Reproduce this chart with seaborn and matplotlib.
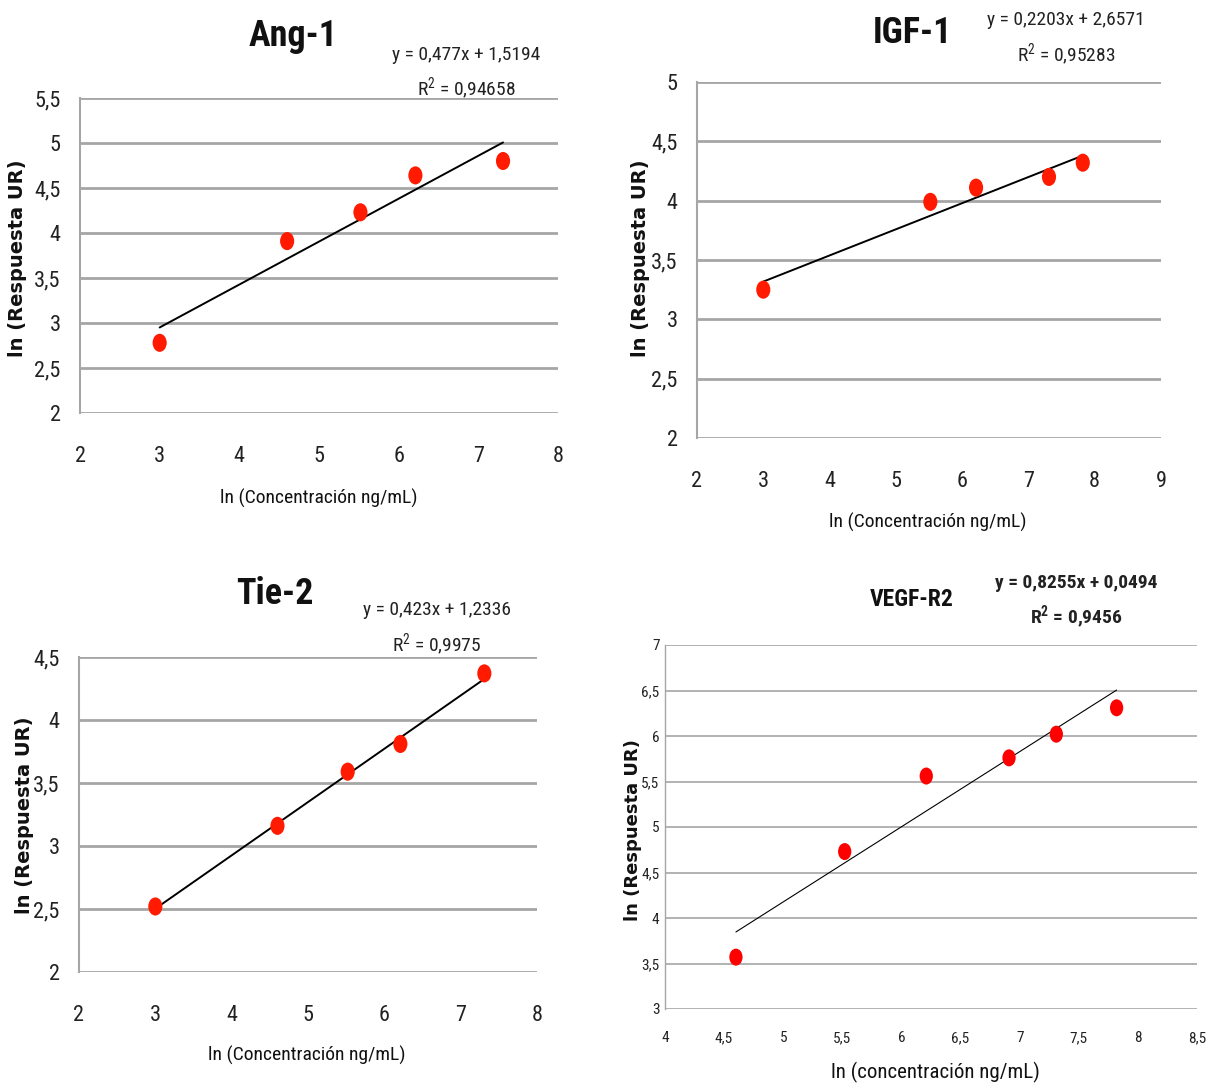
import matplotlib
matplotlib.use("Agg")
import matplotlib.pyplot as plt
from matplotlib.ticker import FuncFormatter, MultipleLocator
from matplotlib import font_manager
from matplotlib.path import Path
from matplotlib.transforms import Affine2D
import seaborn as sns
import numpy as np
import pandas as pd

# ---------------- data ----------------
titles = ["Ang-1", "IGF-1", "Tie-2", "VEGF-R2"]

ang_x = [3.0, 4.6, 5.52, 6.21, 7.31]
ang_y = [2.78, 3.91, 4.23, 4.64, 4.80]
ang_fit = (0.477, 1.5194)
ang_eq = ["y = 0,477x + 1,5194", "R$^2$ = 0,94658"]

igf_x = [3.0, 5.52, 6.21, 7.31, 7.82]
igf_y = [3.25, 3.99, 4.11, 4.20, 4.32]
igf_fit = (0.2203, 2.6571)
igf_eq = ["y = 0,2203x + 2,6571", "R$^2$ = 0,95283"]

tie_x = [3.0, 4.6, 5.52, 6.21, 7.31]
tie_y = [2.52, 3.16, 3.59, 3.81, 4.37]
tie_fit = (0.423, 1.2336)
tie_eq = ["y = 0,423x + 1,2336", "R$^2$ = 0,9975"]

vegf_x = [4.6, 5.52, 6.21, 6.91, 7.31, 7.82]
vegf_y = [3.57, 4.73, 5.56, 5.76, 6.02, 6.31]
vegf_fit = (0.8255, 0.0494)
vegf_eq = ["y = 0,8255x + 0,0494", "R$^2$ = 0,9456"]

xlabel_main = "ln (Concentración ng/mL)"
xlabel_vegf = "ln (concentración ng/mL)"
ylabel = "ln (Respuesta UR)"

# ---------------- style ----------------
sns.set_theme(style="white")
available = {f.name for f in font_manager.fontManager.ttflist}
cands = ["Roboto Condensed", "Liberation Sans Narrow", "Roboto", "DejaVu Sans"]
narrow = [c for c in cands if c in available] or ["DejaVu Sans"]
plt.rcParams["font.family"] = narrow
plt.rcParams["mathtext.fontset"] = "custom"
plt.rcParams["mathtext.rm"] = narrow[0]
plt.rcParams["mathtext.bf"] = narrow[0] + ":bold"

W, H = 1206, 1085
fig = plt.figure(figsize=(W / 100, H / 100), dpi=100)
fig.patch.set_facecolor("white")

# slightly tall elliptical dot, like the original
ellipse = Path.unit_circle().transformed(Affine2D().scale(0.78, 1.0))


def px(x, y):
    return x / W, 1 - y / H


def comma(v, pos):
    return ("%g" % v).replace(".", ",")


panels = [
    dict(x=ang_x, y=ang_y, fit=ang_fit, eq=ang_eq, title=titles[0],
         box=(80, 98, 558, 413), xlim=(2, 8), ylim=(2, 5.5), xstep=1, ystep=0.5,
         tfs=16, title_xy=(293, 36), title_fs=26, eq_xy=(466, 55), r2_xy=(466, 89), eq_fs=14,
         xl_xy=(319, 498), yl_xy=(18, 258), xl_fs=14, yl_fs=14, eq_bold=False, lw=1.4,
         color="#ff1a00", s=170, xpad=24, ypad=14),
    dict(x=igf_x, y=igf_y, fit=igf_fit, eq=igf_eq, title=titles[1],
         box=(697, 82, 1161, 438), xlim=(2, 9), ylim=(2, 5), xstep=1, ystep=0.5,
         tfs=16, title_xy=(912, 33), title_fs=26, eq_xy=(1066, 20), r2_xy=(1066, 55), eq_fs=14,
         xl_xy=(928, 522), yl_xy=(641, 258), xl_fs=14, yl_fs=14, eq_bold=False, lw=1.4,
         color="#ff1a00", s=170, xpad=24, ypad=14),
    dict(x=tie_x, y=tie_y, fit=tie_fit, eq=tie_eq, title=titles[2],
         box=(79, 657, 537, 972), xlim=(2, 8), ylim=(2, 4.5), xstep=1, ystep=0.5,
         tfs=16, title_xy=(275, 594), title_fs=26, eq_xy=(437, 610), r2_xy=(437, 645), eq_fs=14,
         xl_xy=(307, 1055), yl_xy=(25, 815), xl_fs=14, yl_fs=14, eq_bold=False, lw=1.4,
         color="#ff1a00", s=170, xpad=24, ypad=14),
    dict(x=vegf_x, y=vegf_y, fit=vegf_fit, eq=vegf_eq, title=titles[3],
         box=(665, 645, 1197, 1009), xlim=(4, 8.5), ylim=(3, 7), xstep=0.5, ystep=0.5,
         tfs=11, title_xy=(912, 600), title_fs=17, eq_xy=(1076, 583), r2_xy=(1076, 617), eq_fs=14,
         xl_xy=(935, 1072), yl_xy=(633, 830), xl_fs=15, yl_fs=13, eq_bold=True, lw=0.8,
         color="#ff0000", s=150, xpad=16, ypad=4),
]

for p in panels:
    x0, y0, x1, y1 = p["box"]
    left, top = px(x0, y0)
    right, bottom = px(x1, y1)
    ax = fig.add_axes([left, bottom, right - left, top - bottom])
    ax.set_facecolor("white")

    df = pd.DataFrame({"x": p["x"], "y": p["y"]})
    m, b = p["fit"]
    xs = np.array([min(p["x"]), max(p["x"])])
    fit_df = pd.DataFrame({"x": xs, "y": m * xs + b})

    sns.lineplot(data=fit_df, x="x", y="y", ax=ax, color="black", linewidth=p["lw"], zorder=3)
    sns.scatterplot(data=df, x="x", y="y", ax=ax, color=p["color"], s=p["s"],
                    marker=ellipse, edgecolor="none", zorder=4)

    ax.set_xlim(*p["xlim"])
    ax.set_ylim(*p["ylim"])
    ax.xaxis.set_major_locator(MultipleLocator(p["xstep"]))
    ax.yaxis.set_major_locator(MultipleLocator(p["ystep"]))
    ax.xaxis.set_major_formatter(FuncFormatter(comma))
    ax.yaxis.set_major_formatter(FuncFormatter(comma))
    big = p["tfs"] > 12
    ax.grid(axis="y", color="#a6a6a6", linewidth=2 if big else 1.2)
    ax.grid(axis="x", visible=False)
    ax.set_axisbelow(True)
    for sname in ["top", "right", "bottom"]:
        ax.spines[sname].set_visible(False)
    ax.spines["left"].set_color("#a6a6a6")
    ax.spines["left"].set_linewidth(1.5 if big else 1.0)
    ax.tick_params(axis="both", length=0, labelsize=p["tfs"], colors="#222222")
    ax.tick_params(axis="x", pad=p["xpad"])
    ax.tick_params(axis="y", pad=p["ypad"])
    ax.set_xlabel("")
    ax.set_ylabel("")

    tx, ty = px(*p["title_xy"])
    fig.text(tx, ty, p["title"], ha="center", va="center", fontsize=p["title_fs"],
             fontweight="bold", color="#111111")
    wt = "bold" if p["eq_bold"] else "normal"
    ex, ey = px(*p["eq_xy"])
    fig.text(ex, ey, p["eq"][0], ha="center", va="center", fontsize=p["eq_fs"],
             fontweight=wt, color="#222222")
    rx, ry = px(*p["r2_xy"])
    r2 = p["eq"][1].replace("R$^2$", r"R$^\mathbf{2}$") if p["eq_bold"] else p["eq"][1]
    fig.text(rx, ry, r2, ha="center", va="center", fontsize=p["eq_fs"],
             fontweight=wt, color="#222222")
    lx, ly = px(*p["xl_xy"])
    fig.text(lx, ly, xlabel_vegf if p["title"] == "VEGF-R2" else xlabel_main,
             ha="center", va="center", fontsize=p["xl_fs"], color="#111111")
    yx, yy = px(*p["yl_xy"])
    fig.text(yx, yy, ylabel, ha="center", va="center", rotation=90, fontsize=p["yl_fs"],
             fontweight="bold", family=["DejaVu Sans"], color="#111111")

fig.savefig("out.png", dpi=100, facecolor="white")
